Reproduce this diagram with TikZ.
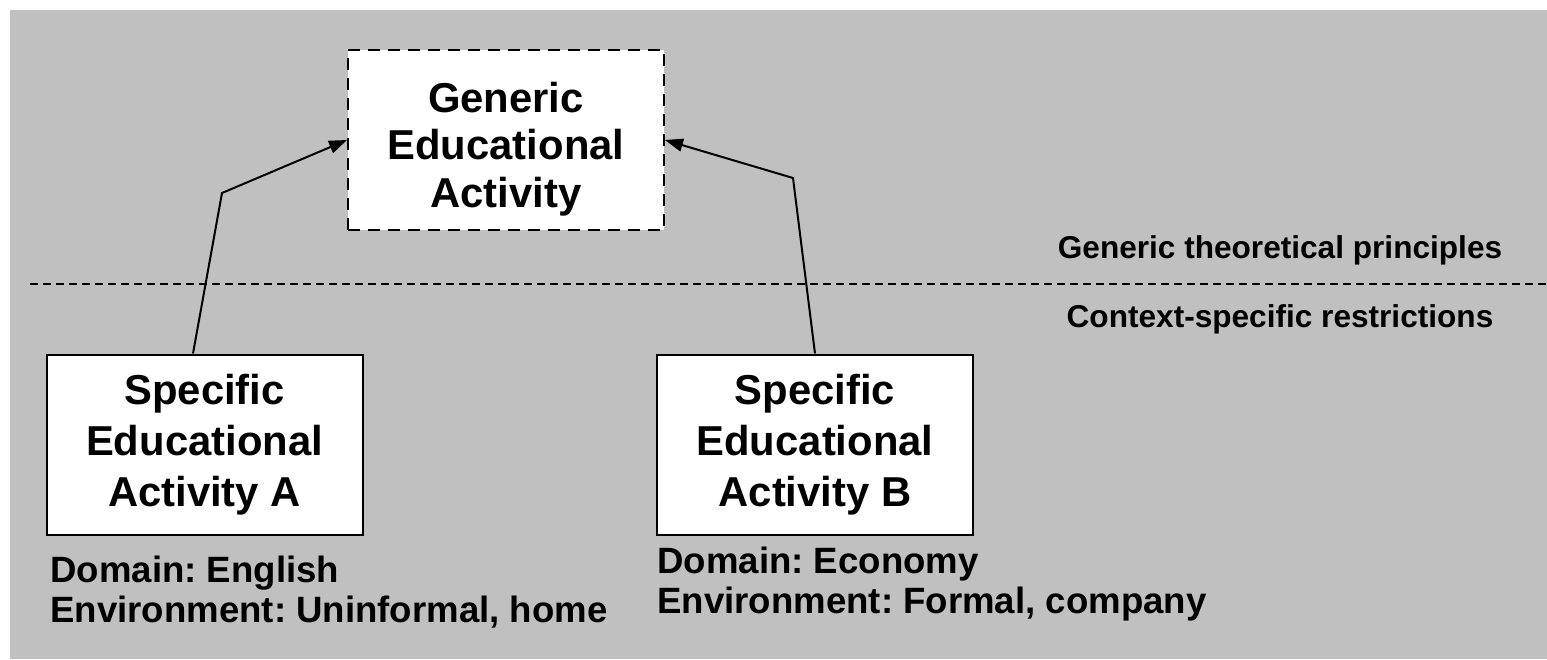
\documentclass[tikz,border=0pt]{standalone}
\usepackage{fontspec}
\setmainfont{Liberation Sans}
\frenchspacing
\usetikzlibrary{arrows.meta}
\definecolor{slidegray}{RGB}{192,192,192}
\begin{document}
\begin{tikzpicture}[x=0.5pt, y=-0.5pt,
    activity/.style={draw, line width=1pt, fill=white, align=center,
      minimum width=158pt, minimum height=90pt, inner sep=0pt,
      font=\fontsize{20.9}{25.5}\selectfont\bfseries},
    generic/.style={activity, dash pattern=on 6pt off 4pt,
      font=\fontsize{20.9}{23.7}\selectfont\bfseries},
    note/.style={inner sep=0pt, font=\fontsize{15.8}{19}\selectfont\bfseries},
    context/.style={inner sep=0pt, align=left, anchor=west,
      font=\fontsize{18.3}{20}\selectfont\bfseries},
    link/.style={line width=1pt, -{Triangle[length=9pt, width=6.5pt]}}]
    \useasboundingbox (0,0) rectangle (1547,659);
    \fill[slidegray] (10,10) rectangle (1547,659);
    \draw[line width=0.75pt, dash pattern=on 4pt off 2.5pt] (30,284) -- (1547,284);
    \node[generic] (genAct) at (506,140) {\rule{0pt}{24pt}Generic\\Educational\\Activity};
    \node[activity] (specA) at (204.5,444.5) {Specific\\Educational\\Activity A};
    \node[activity] (specB) at (815,444.5) {Specific\\Educational\\Activity B};
    \node[note] (principles) at (1280,250) {Generic theoretical principles};
    \node[note] (restrictions) at (1280,319) {Context-specific restrictions};
    \node[context] (ctxA) at (50,592) {Domain: English\\Environment: Uninformal, home};
    \node[context] (ctxB) at (657,584) {Domain: Economy\\Environment: Formal, company};
    \coordinate (kneeA) at (222,193);
    \coordinate (kneeB) at (793,178);
    \draw[link] ([xshift=-5.75pt]specA.north) -- (kneeA) -- (genAct.west);
    \draw[link] (specB.north) -- (kneeB) -- (genAct.east);
\end{tikzpicture}
\end{document}
